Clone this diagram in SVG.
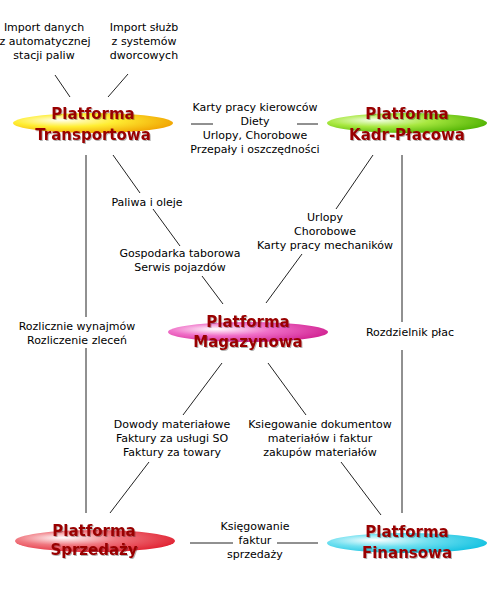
<svg xmlns="http://www.w3.org/2000/svg" width="490" height="601" viewBox="0 0 490 601">
<style>
.lbl{font-family:"DejaVu Sans",Verdana,sans-serif;font-size:11px;fill:#000;text-anchor:middle}
.ttl{font-family:"DejaVu Sans",Verdana,sans-serif;font-size:15px;font-weight:bold;fill:#990000;text-anchor:middle;filter:url(#sh)}
.ln{stroke:#222;stroke-width:1;fill:none}
</style>
<defs>
<filter id="sh" x="-10%" y="-30%" width="120%" height="160%">
<feDropShadow dx="1" dy="1" stdDeviation="0.6" flood-color="#000" flood-opacity="0.3"/>
</filter>
<radialGradient id="gY" cx="0.35" cy="0.4" r="0.7" fx="0.3" fy="0.35">
<stop offset="0" stop-color="#ffffee"/><stop offset="0.45" stop-color="#ffee33"/><stop offset="1" stop-color="#f0a000"/>
</radialGradient>
<radialGradient id="gG" cx="0.35" cy="0.4" r="0.7" fx="0.3" fy="0.35">
<stop offset="0" stop-color="#f4ffe8"/><stop offset="0.45" stop-color="#a8e840"/><stop offset="1" stop-color="#4cb000"/>
</radialGradient>
<radialGradient id="gM" cx="0.35" cy="0.4" r="0.7" fx="0.3" fy="0.35">
<stop offset="0" stop-color="#ffffff"/><stop offset="0.45" stop-color="#f070c8"/><stop offset="1" stop-color="#d02090"/>
</radialGradient>
<radialGradient id="gR" cx="0.35" cy="0.4" r="0.7" fx="0.3" fy="0.35">
<stop offset="0" stop-color="#ffffff"/><stop offset="0.45" stop-color="#f07880"/><stop offset="1" stop-color="#e02030"/>
</radialGradient>
<radialGradient id="gC" cx="0.35" cy="0.4" r="0.7" fx="0.3" fy="0.35">
<stop offset="0" stop-color="#ffffff"/><stop offset="0.45" stop-color="#70e0f0"/><stop offset="1" stop-color="#10c0e0"/>
</radialGradient>
</defs>
<rect width="490" height="601" fill="#fff"/>
<g id="connectors">
<line class="ln" x1="55" y1="75" x2="70" y2="97"/>
<line class="ln" x1="128" y1="74" x2="108" y2="97"/>
<text class="lbl" x="44" y="31">Import danych</text>
<text class="lbl" x="45" y="45">z automatycznej</text>
<text class="lbl" x="44" y="59">stacji paliw</text>
<text class="lbl" x="144" y="31">Import służb</text>
<text class="lbl" x="144" y="45">z systemów</text>
<text class="lbl" x="144" y="59">dworcowych</text>
<line class="ln" x1="191" y1="124" x2="213" y2="124"/>
<line class="ln" x1="297" y1="124" x2="318" y2="124"/>
<text class="lbl" x="255" y="111">Karty pracy kierowców</text>
<text class="lbl" x="255" y="125">Diety</text>
<text class="lbl" x="255" y="139">Urlopy, Chorobowe</text>
<text class="lbl" x="255" y="153">Przepały i oszczędności</text>
<line class="ln" x1="86" y1="155" x2="86" y2="317"/>
<line class="ln" x1="86" y1="348" x2="86" y2="513"/>
<text class="lbl" x="77" y="330">Rozlicznie wynajmów</text>
<text class="lbl" x="77" y="344">Rozliczenie zleceń</text>
<line class="ln" x1="113" y1="155" x2="140" y2="193"/>
<text class="lbl" x="147" y="206">Paliwa i oleje</text>
<line class="ln" x1="153" y1="209" x2="180" y2="246"/>
<text class="lbl" x="180" y="257">Gospodarka taborowa</text>
<text class="lbl" x="180" y="271">Serwis pojazdów</text>
<line class="ln" x1="202" y1="276" x2="223" y2="304"/>
<line class="ln" x1="373" y1="155" x2="336" y2="209"/>
<text class="lbl" x="325" y="221">Urlopy</text>
<text class="lbl" x="325" y="235">Chorobowe</text>
<text class="lbl" x="325" y="249">Karty pracy mechaników</text>
<line class="ln" x1="302" y1="254" x2="266" y2="303"/>
<line class="ln" x1="402" y1="155" x2="402" y2="322"/>
<line class="ln" x1="402" y1="350" x2="402" y2="513"/>
<text class="lbl" x="410" y="336">Rozdzielnik płac</text>
<line class="ln" x1="222" y1="363" x2="183" y2="415"/>
<text class="lbl" x="172" y="428">Dowody materiałowe</text>
<text class="lbl" x="172" y="442">Faktury za usługi SO</text>
<text class="lbl" x="172" y="456">Faktury za towary</text>
<line class="ln" x1="149" y1="462" x2="110" y2="513"/>
<line class="ln" x1="268" y1="363" x2="306" y2="415"/>
<text class="lbl" x="320" y="428">Ksiegowanie dokumentow</text>
<text class="lbl" x="320" y="442">materiałów i faktur</text>
<text class="lbl" x="320" y="456">zakupów materiałów</text>
<line class="ln" x1="341" y1="462" x2="381" y2="515"/>
<line class="ln" x1="190" y1="543" x2="233" y2="543"/>
<line class="ln" x1="277" y1="543" x2="318" y2="543"/>
<text class="lbl" x="255" y="530">Księgowanie</text>
<text class="lbl" x="255" y="544">faktur</text>
<text class="lbl" x="255" y="558">sprzedaży</text>
</g>
<g id="transport">
<ellipse cx="93" cy="123" rx="80" ry="10" fill="url(#gY)"/>
<text class="ttl" x="93" y="119">Platforma</text>
<text class="ttl" x="93" y="140">Transportowa</text>
</g>
<g id="kadr">
<ellipse cx="407" cy="123" rx="80" ry="10" fill="url(#gG)"/>
<text class="ttl" x="407" y="119">Platforma</text>
<text class="ttl" x="407" y="140">Kadr-Płacowa</text>
</g>
<g id="magazyn">
<ellipse cx="248" cy="332" rx="80" ry="10" fill="url(#gM)"/>
<text class="ttl" x="248" y="327">Platforma</text>
<text class="ttl" x="248" y="347">Magazynowa</text>
</g>
<g id="sprzedaz">
<ellipse cx="95" cy="541" rx="80" ry="11" fill="url(#gR)"/>
<text class="ttl" x="94" y="536">Platforma</text>
<text class="ttl" x="94" y="555">Sprzedaży</text>
</g>
<g id="finanse">
<ellipse cx="407" cy="543" rx="80" ry="10" fill="url(#gC)"/>
<text class="ttl" x="407" y="537">Platforma</text>
<text class="ttl" x="407" y="558">Finansowa</text>
</g>
</svg>
